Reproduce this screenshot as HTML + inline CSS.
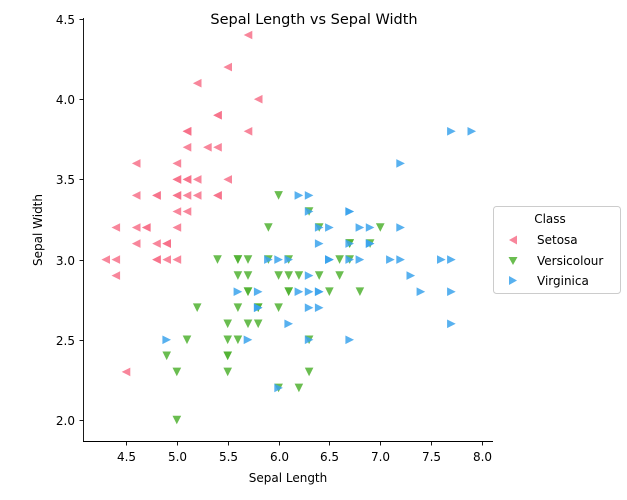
<!DOCTYPE html>
<html><head><meta charset="utf-8"><style>
body{margin:0;background:#fff;}
svg{display:block;font-family:"DejaVu Sans","Liberation Sans",sans-serif;}
</style></head><body>
<svg id="chart" width="627" height="500" viewBox="0 0 627 500">
<text x="314" y="24" text-anchor="middle" font-size="14.5">Sepal Length vs Sepal Width</text>
<g id="marks"></g>
<g id="axes"></g>
<text x="288" y="482" text-anchor="middle" font-size="12">Sepal Length</text>
<text transform="translate(42,230) rotate(-90)" text-anchor="middle" font-size="12">Sepal Width</text>
<g>
<rect x="493.5" y="206.5" width="127" height="87" rx="3" fill="#fff" stroke="#ccc"/>
<text x="550" y="223" text-anchor="middle" font-size="12">Class</text>
<g><polygon points="509,240 517,235.5 517,244.5" fill="#f77189" opacity="0.85"/><text x="537" y="244" font-size="12">Setosa</text></g>
<g><polygon points="508.5,257 517.5,257 513,265" fill="#50b131" opacity="0.85"/><text x="537" y="265" font-size="12">Versicolour</text></g>
<g><polygon points="509,276 509,285 517,280.5" fill="#3ba3ec" opacity="0.85"/><text x="537" y="285" font-size="12">Virginica</text></g>
</g>
</svg>
<script>
const setosaX=[5.1,4.9,4.7,4.6,5.0,5.4,4.6,5.0,4.4,4.9,5.4,4.8,4.8,4.3,5.8,5.7,5.4,5.1,5.7,5.1,5.4,5.1,4.6,5.1,4.8,5.0,5.0,5.2,5.2,4.7,4.8,5.4,5.2,5.5,4.9,5.0,5.5,4.9,4.4,5.1,5.0,4.5,4.4,5.0,5.1,4.8,5.1,4.6,5.3,5.0];
const setosaY=[3.5,3.0,3.2,3.1,3.6,3.9,3.4,3.4,2.9,3.1,3.7,3.4,3.0,3.0,4.0,4.4,3.9,3.5,3.8,3.8,3.4,3.7,3.6,3.3,3.4,3.0,3.4,3.5,3.4,3.2,3.1,3.4,4.1,4.2,3.1,3.2,3.5,3.1,3.0,3.4,3.5,2.3,3.2,3.5,3.8,3.0,3.8,3.2,3.7,3.3];
const versiX=[7.0,6.4,6.9,5.5,6.5,5.7,6.3,4.9,6.6,5.2,5.0,5.9,6.0,6.1,5.6,6.7,5.6,5.8,6.2,5.6,5.9,6.1,6.3,6.1,6.4,6.6,6.8,6.7,6.0,5.7,5.5,5.5,5.8,6.0,5.4,6.0,6.7,6.3,5.6,5.5,5.5,6.1,5.8,5.0,5.6,5.7,5.7,6.2,5.1,5.7];
const versiY=[3.2,3.2,3.1,2.3,2.8,2.8,3.3,2.4,2.9,2.7,2.0,3.0,2.2,2.9,2.9,3.1,3.0,2.7,2.2,2.5,3.2,2.8,2.5,2.8,2.9,3.0,2.8,3.0,2.9,2.6,2.4,2.4,2.7,2.7,3.0,3.4,3.1,2.3,3.0,2.5,2.6,3.0,2.6,2.3,2.7,3.0,2.9,2.9,2.5,2.8];
const virgX=[6.3,5.8,7.1,6.3,6.5,7.6,4.9,7.3,6.7,7.2,6.5,6.4,6.8,5.7,5.8,6.4,6.5,7.7,7.7,6.0,6.9,5.6,7.7,6.3,6.7,7.2,6.2,6.1,6.4,7.2,7.4,7.9,6.4,6.3,6.1,7.7,6.3,6.4,6.0,6.9,6.7,6.9,5.8,6.8,6.7,6.7,6.3,6.5,6.2,5.9];
const virgY=[3.3,2.7,3.0,2.9,3.0,3.0,2.5,2.9,2.5,3.6,3.2,2.7,3.0,2.5,2.8,3.2,3.0,3.8,2.6,2.2,3.2,2.8,2.8,2.7,3.3,3.2,2.8,3.0,2.8,3.0,2.8,3.8,2.8,2.8,2.6,3.0,3.4,3.1,3.0,3.1,3.1,3.1,2.7,3.2,3.3,3.0,2.5,3.0,3.4,3.0];
const xTicks=[4.5,5.0,5.5,6.0,6.5,7.0,7.5,8.0];
const yTicks=[2.0,2.5,3.0,3.5,4.0,4.5];

const NS="http://www.w3.org/2000/svg";
function sx(v){return 126+(v-4.5)*101.7;}
function sy(v){return 420-(v-2.0)*160.4;}
const marks=document.getElementById('marks');
const axes=document.getElementById('axes');
function tri(x,y,kind){
  const r=4.3;let p;
  if(kind==='left')p=[[x-r,y],[x+r,y-r],[x+r,y+r]];
  else if(kind==='down')p=[[x-r,y-r],[x+r,y-r],[x,y+r]];
  else p=[[x-r,y-r],[x-r,y+r],[x+r,y]];
  return p.map(q=>q[0].toFixed(1)+','+q[1].toFixed(1)).join(' ');
}
function series(xs,ys,kind,color,name){
  for(let i=0;i<xs.length;i++){
    const el=document.createElementNS(NS,'polygon');
    el.setAttribute('points',tri(sx(xs[i]),sy(ys[i]),kind));
    el.setAttribute('fill',color);
    el.setAttribute('opacity','0.85');
    
    
    marks.appendChild(el);
  }
}
series(setosaX,setosaY,'left','#f77189','setosa');
series(versiX,versiY,'down','#50b131','versicolour');
series(virgX,virgY,'right','#3ba3ec','virginica');

function line(x1,y1,x2,y2){
  const l=document.createElementNS(NS,'line');
  l.setAttribute('x1',x1);l.setAttribute('y1',y1);l.setAttribute('x2',x2);l.setAttribute('y2',y2);
  l.setAttribute('stroke','#000');l.setAttribute('stroke-width','0.9');
  axes.appendChild(l);return l;
}
const xs=line(83,441.5,493,441.5);


const ys=line(83.5,18,83.5,442);


xTicks.forEach(t=>{
  const x=Math.round(sx(t))+0.5;
  line(x,441.5,x,445.5);
  const tx=document.createElementNS(NS,'text');
  tx.setAttribute('x',x);tx.setAttribute('y',461);tx.setAttribute('text-anchor','middle');tx.setAttribute('font-size','12');
  tx.textContent=t.toFixed(1);
  
  
  axes.appendChild(tx);
});
yTicks.forEach(t=>{
  const y=Math.round(sy(t))+0.5;
  line(79.5,y,83.5,y);
  const tx=document.createElementNS(NS,'text');
  tx.setAttribute('x',75);tx.setAttribute('y',y+4.5);tx.setAttribute('text-anchor','end');tx.setAttribute('font-size','12');
  tx.textContent=t.toFixed(1);
  
  
  axes.appendChild(tx);
});
</script>
</body></html>
